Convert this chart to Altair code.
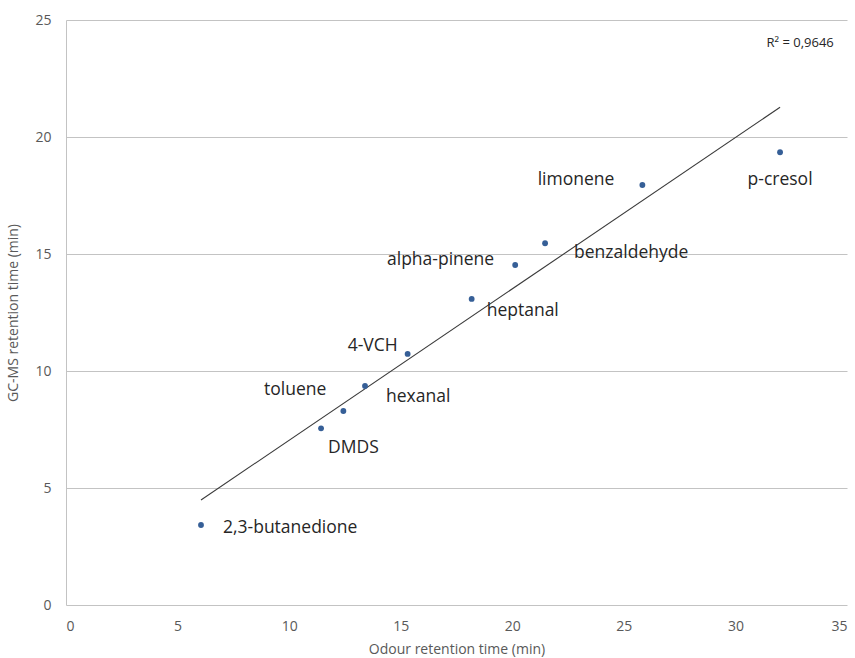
import altair as alt
import pandas as pd

# ---- data ----
compounds = ["2,3-butanedione", "DMDS", "toluene", "hexanal", "4-VCH",
             "heptanal", "alpha-pinene", "benzaldehyde", "limonene", "p-cresol"]
odour_rt = [6.05, 11.43, 12.43, 13.40, 15.31, 18.18, 20.13, 21.47, 25.83, 32.0]
gcms_rt = [3.42, 7.55, 8.29, 9.36, 10.73, 13.08, 14.53, 15.46, 17.95, 19.35]
x_ticks = [0, 5, 10, 15, 20, 25, 30, 35]
y_ticks = [0, 5, 10, 15, 20, 25]
r2_label = "R² = 0,9646"

# label placement styles (align, dx, dy) per compound
label_style = {
    "2,3-butanedione": ("left", 22, 3),
    "DMDS": ("left", 7, 20),
    "toluene": ("right", -17, -21),
    "hexanal": ("left", 21, 11),
    "4-VCH": ("right", -10, -8),
    "heptanal": ("left", 15, 12),
    "alpha-pinene": ("right", -21, -5),
    "benzaldehyde": ("left", 29, 10),
    "limonene": ("right", -28, -5),
    "p-cresol": ("center", 0, 28),
}

df = pd.DataFrame({"name": compounds, "x": odour_rt, "y": gcms_rt})

FONT = "Open Sans"
AXIS_COLOR = "#595959"
GRID = "#c3c3c3"

x_enc = alt.X("x:Q", title="Odour retention time (min)",
              scale=alt.Scale(domain=[0, 35], nice=False, zero=True),
              axis=alt.Axis(values=x_ticks, grid=False, ticks=False, domain=False,
                            labelPadding=14, titlePadding=9, labelFontSize=14,
                            titleFontSize=14, labelColor=AXIS_COLOR, titleColor=AXIS_COLOR,
                            titleFontWeight="normal", labelFont=FONT, titleFont=FONT))
y_enc = alt.Y("y:Q", title="GC-MS retention time (min)",
              scale=alt.Scale(domain=[0, 25], nice=False, zero=True),
              axis=alt.Axis(values=y_ticks, grid=True, gridColor=GRID, ticks=False,
                            domain=True, domainColor=GRID, labelPadding=15,
                            titlePadding=14, labelFontSize=14, titleFontSize=14,
                            labelColor=AXIS_COLOR, titleColor=AXIS_COLOR,
                            titleFontWeight="normal", labelFont=FONT, titleFont=FONT))

base = alt.Chart(df)

points = base.mark_point(filled=True, shape="circle", size=34, color="#365f97",
                         opacity=1).encode(x=x_enc, y=y_enc)

trend = base.transform_regression("x", "y").mark_line(
    color="#3a3a3a", strokeWidth=1.1).encode(x="x:Q", y="y:Q")

label_layers = []
for name, (align, dx, dy) in label_style.items():
    label_layers.append(
        base.transform_filter(alt.datum.name == name).mark_text(
            align=align, baseline="middle", dx=dx, dy=dy, font=FONT,
            fontSize=17.5, color="#262626"
        ).encode(x="x:Q", y="y:Q", text="name:N")
    )

r2 = alt.Chart(pd.DataFrame({"t": [r2_label], "x": [32.9], "y": [24.0]})).mark_text(
    font=FONT, fontSize=13, color="#262626", align="center", baseline="middle"
).encode(x="x:Q", y="y:Q", text="t:N")

chart = alt.layer(trend, points, *label_layers, r2).properties(
    width=781, height=585,
    autosize=alt.AutoSizeParams(type="none"),
    padding={"left": 66, "top": 20, "right": 8, "bottom": 53},
    background="white",
).configure_view(stroke=None)

chart.save("out.html", embed_options={"renderer": "svg", "actions": False})
